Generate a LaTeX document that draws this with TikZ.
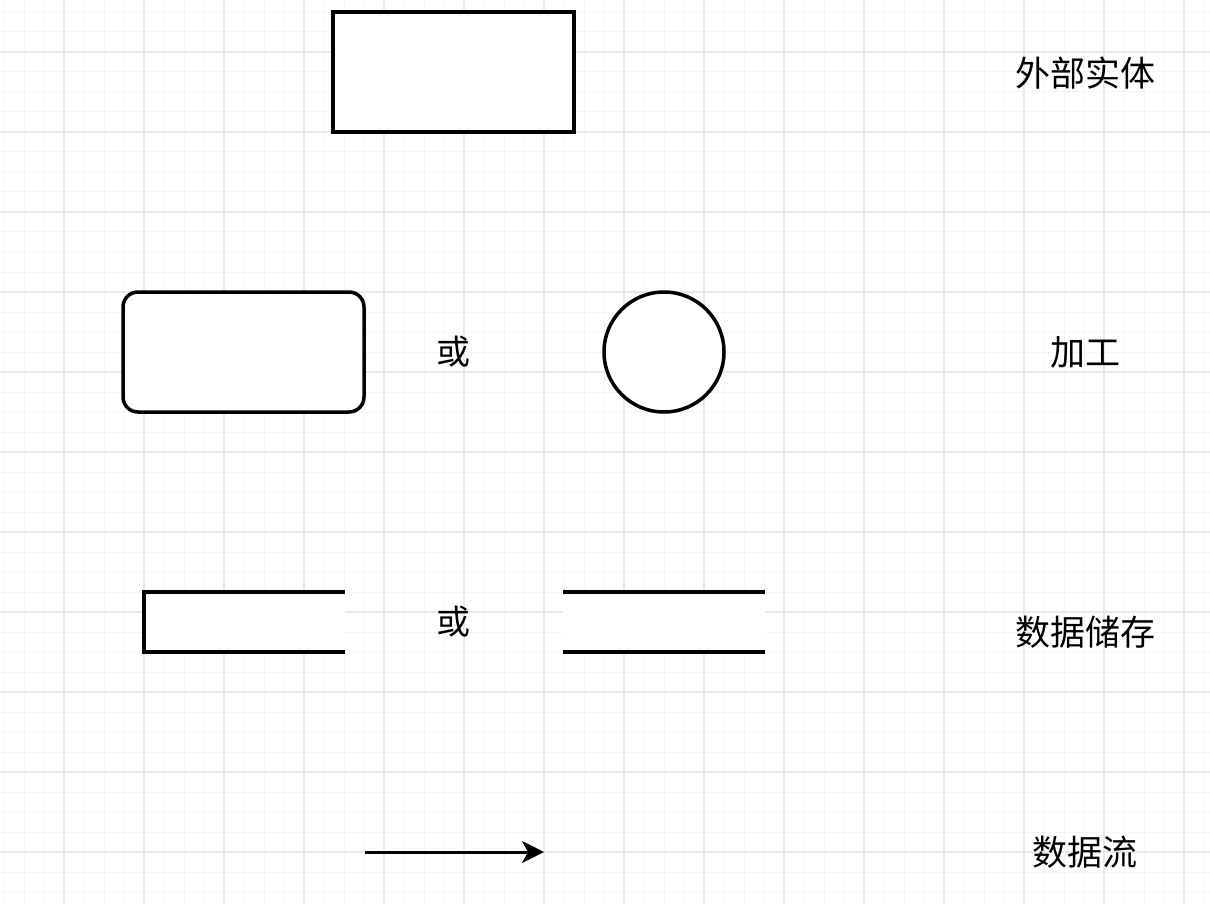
\documentclass[tikz,border=0pt]{standalone}
\usepackage{fontspec}
\newfontfamily\cjk{Noto Sans CJK SC}
\usetikzlibrary{arrows.meta}
\definecolor{gridminor}{HTML}{F5F5F5}
\definecolor{gridmajor}{HTML}{E9E9E9}
\tikzset{
  shapeline/.style={draw=black, line width=3.5pt},
  entity/.style={shapeline, rectangle, minimum width=241pt, minimum height=120pt, inner sep=0pt},
  procbox/.style={shapeline, rectangle, rounded corners=15pt, minimum width=241pt, minimum height=120pt, inner sep=0pt},
  proccirc/.style={shapeline, circle, minimum size=120pt, inner sep=0pt},
  label/.style={font=\cjk\fontsize{35}{40}\selectfont, inner sep=0pt},
  ortext/.style={font=\cjk\fontsize{34}{40}\selectfont, inner sep=0pt},
  flow/.style={draw=black, line width=3pt, -{Stealth[length=22pt, width=22pt, inset=6pt]}},
}
\begin{document}
\begin{tikzpicture}[x=1pt, y=-1pt]
\useasboundingbox (0,0) rectangle (1210,904);
\fill[white] (0,0) rectangle (1210,904);
% grid
\foreach \x in {4,24,...,1204} \draw[gridminor, line width=1pt] (\x,0) -- (\x,904);
\foreach \y in {12,32,...,904} \draw[gridminor, line width=1pt] (0,\y) -- (1210,\y);
\foreach \x in {64,144,...,1204} \draw[gridmajor, line width=1.2pt] (\x,0) -- (\x,904);
\foreach \y in {52,132,...,904} \draw[gridmajor, line width=1.2pt] (0,\y) -- (1210,\y);

% external entity
\node[entity, fill=white] (ent) at (453.5,72) {};
\node[label] (lent) at (1085,73) {外部实体};

% process
\node[procbox, fill=white] (proc1) at (243.5,352) {};
\node[ortext] (or1) at (453,352) {或};
\node[proccirc, fill=white] (proc2) at (664,352) {};
\node[label] (lproc) at (1085,352) {加工};

% data store
\fill[white] (144,592) rectangle (345,652);
\draw[line width=3.5pt] (345,592) -- (144,592) -- (144,652) -- (345,652);
\fill[white] (563,592) rectangle (765,652);
\draw[line width=3.5pt] (563,592) -- (765,592);
\draw[line width=3.5pt] (563,652) -- (765,652);
\node[ortext] (or2) at (453,622) {或};
\node[label] (lstore) at (1085,632) {数据储存};

% data flow
\coordinate (fa) at (365,852);
\coordinate (fb) at (544,852);
\draw[flow] (fa) -- (fb);
\node[label] (lflow) at (1085,852) {数据流};
\end{tikzpicture}
\end{document}
